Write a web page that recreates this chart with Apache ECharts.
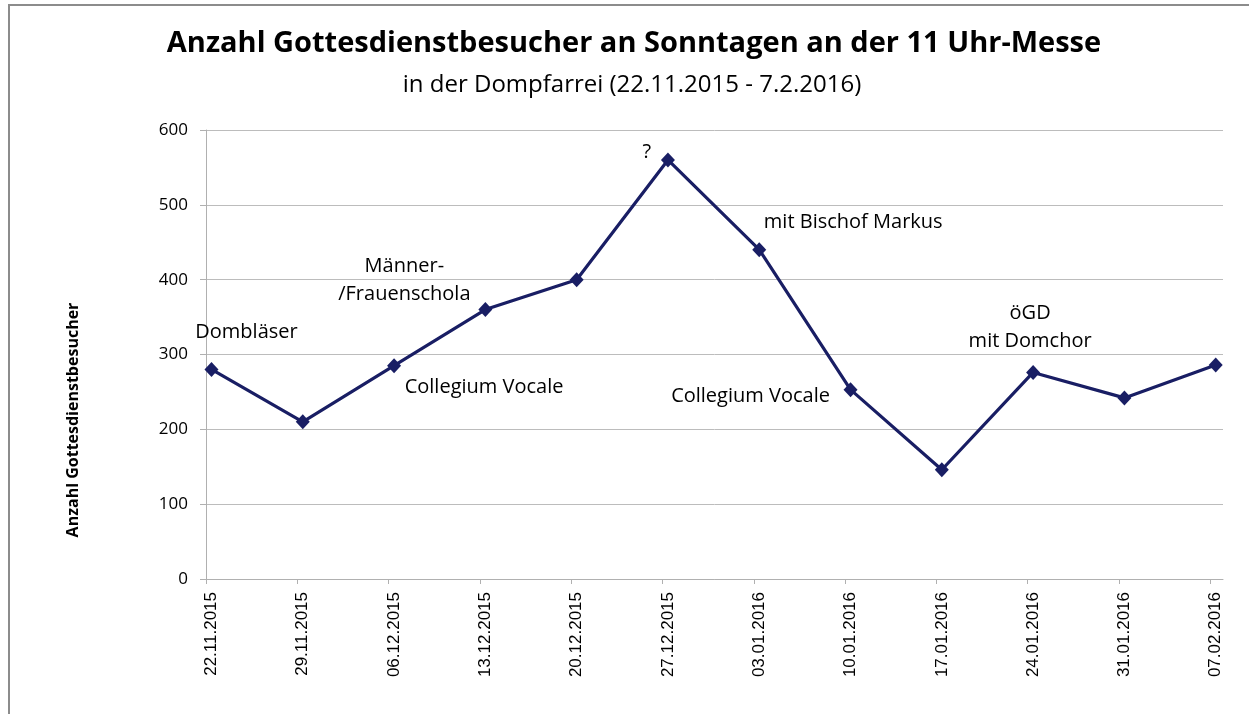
<!DOCTYPE html>
<html>
<head>
<meta charset="utf-8">
<script src="https://cdn.jsdelivr.net/npm/echarts@6/dist/echarts.min.js"></script>
<style>
  html, body { margin: 0; padding: 0; background: #fff; }
  #chart { width: 1249px; height: 714px; }
</style>
</head>
<body>
<div id="chart"></div>
<script>
// Sonntage (Kategorien) und Besucherzahlen
const dates = ['22.11.2015', '29.11.2015', '06.12.2015', '13.12.2015', '20.12.2015', '27.12.2015',
  '03.01.2016', '10.01.2016', '17.01.2016', '24.01.2016', '31.01.2016', '07.02.2016']
const visitors = [280, 210, 285, 360, 400, 560, 440, 253, 146, 276, 242, 286]
const notes = ['Dombläser', '', 'Collegium Vocale', 'Männer-\n/Frauenschola', '', '?',
  'mit Bischof Markus', 'Collegium Vocale', '', 'öGD\nmit Domchor', '', '']
const noteOffsets = [[35, -37], null, [90, 22], [-81, -29], null, [-21, -8],
  [94, -27], [-100, 7], null, [-3, -45], null, null]
const yTicks = [0, 100, 200, 300, 400, 500, 600]

const weekIdx = dates.map((d, i) => i)
// Excel-Datumsachse: Punkt liegt in der Tagesmitte, Teilstrich am Tagesbeginn
const dayShift = 0.06

const chart = echarts.init(document.getElementById('chart'))

const font = "'Open Sans', sans-serif"

chart.setOption({
  backgroundColor: '#fff',
  animation: false,
  title: [
    {
      text: 'Anzahl Gottesdienstbesucher an Sonntagen an der 11 Uhr-Messe',
      left: 629,
      top: 24,
      textAlign: 'center',
      textStyle: { fontFamily: font, fontWeight: 'bold', fontSize: 29, color: '#000' },
    },
    {
      text: 'in der Dompfarrei (22.11.2015 - 7.2.2016)',
      left: 627,
      top: 68,
      textAlign: 'center',
      textStyle: { fontFamily: font, fontWeight: 'normal', fontSize: 24, color: '#000' },
    },
  ],
  graphic: [
    {
      type: 'rect',
      shape: { x: 9, y: 5, width: 1300, height: 800 },
      style: { fill: 'none', stroke: '#8c8c8c', lineWidth: 2 },
      silent: true,
    },
    {
      type: 'text',
      x: 73,
      y: 420,
      rotation: Math.PI / 2,
      style: {
        text: 'Anzahl Gottesdienstbesucher',
        fontFamily: font,
        fontWeight: 'bold',
        fontSize: 16,
        fill: '#000',
        align: 'center',
        verticalAlign: 'middle',
      },
      silent: true,
    },
  ],
  grid: { left: 206, top: 130, width: 1017, height: 449, containLabel: false },
  xAxis: [
    {
      type: 'value',
      min: 0,
      max: 11.14,
      interval: 1,
      axisLine: { show: true, lineStyle: { color: '#b0b0b0', width: 1 } },
      axisTick: { show: true, length: 5, customValues: weekIdx, lineStyle: { color: '#b0b0b0' } },
      axisLabel: { show: false },
      splitLine: { show: false },
    },
    {
      type: 'value',
      position: 'bottom',
      min: -dayShift,
      max: 11.14 - dayShift,
      axisLine: { show: false },
      axisTick: { show: false },
      splitLine: { show: false },
      axisLabel: {
        show: true,
        customValues: weekIdx,
        rotate: 90,
        margin: 13,
        fontFamily: "'Liberation Sans', Arial, sans-serif",
        fontSize: 17,
        color: '#000',
        formatter: (v) => dates[Math.round(v)] || '',
      },
    },
  ],
  yAxis: {
    type: 'value',
    min: 0,
    max: 600,
    interval: 100,
    axisLine: { show: true, lineStyle: { color: '#b0b0b0', width: 1 } },
    axisTick: { show: true, length: 6, lineStyle: { color: '#b0b0b0' } },
    axisLabel: { margin: 18, fontFamily: font, fontSize: 17, color: '#000',
      formatter: (v) => (yTicks.includes(v) ? String(v) : '') },
    splitLine: { show: true, lineStyle: { color: '#bcbcbc', width: 1 } },
  },
  series: [
    {
      type: 'line',
      xAxisIndex: 1,
      data: visitors.map((v, i) => ({
        value: [weekIdx[i], v],
        label: notes[i]
          ? {
              show: true,
              formatter: notes[i],
              position: 'inside',
              offset: noteOffsets[i],
              align: 'center',
              verticalAlign: 'middle',
              fontFamily: font,
              fontSize: 20,
              lineHeight: 28,
              color: '#000',
            }
          : { show: false },
      })),
      symbol: 'diamond',
      symbolSize: [14, 15],
      lineStyle: { color: '#191e64', width: 3.2 },
      itemStyle: { color: '#191e64' },
      z: 3,
    },
  ],
})
</script>
</body>
</html>
